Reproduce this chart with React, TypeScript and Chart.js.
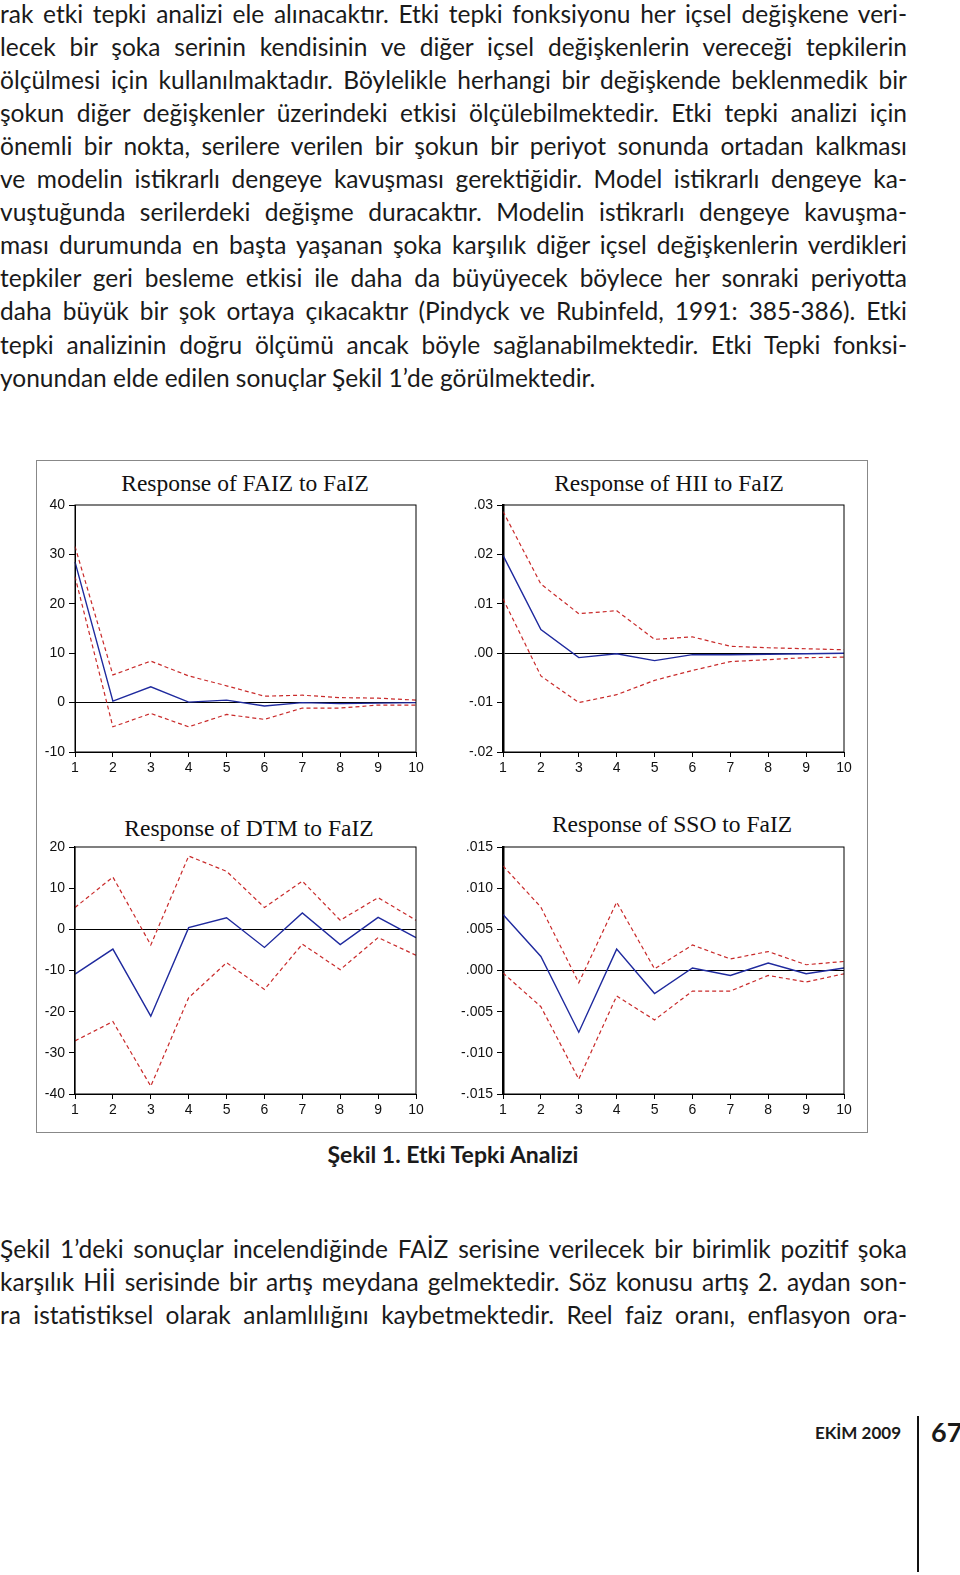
import React, { useEffect, useRef } from 'react';
import { Chart, registerables } from 'chart.js';

Chart.register(...registerables);

// ---------- DATA ----------
const periods = ['1', '2', '3', '4', '5', '6', '7', '8', '9', '10'];

const faizResponse = [28.5, 0.3, 3.2, 0.1, 0.5, -0.7, 0.0, -0.2, -0.1, 0.0];
const faizUpper = [31.6, 5.6, 8.4, 5.4, 3.4, 1.3, 1.5, 1.0, 0.9, 0.5];
const faizLower = [25.5, -4.9, -2.2, -4.9, -2.4, -3.4, -1.1, -1.1, -0.5, -0.5];
const faizTickLabels = ['-10', '0', '10', '20', '30', '40'];

const hiiResponse = [0.0198, 0.0048, -0.0009, -0.0001, -0.0015, -0.0003, -0.0003, -0.0002, -0.0001, 0.0];
const hiiUpper = [0.0287, 0.014, 0.008, 0.0086, 0.0028, 0.0033, 0.0014, 0.0011, 0.0009, 0.0007];
const hiiLower = [0.011, -0.0046, -0.01, -0.0084, -0.0055, -0.0035, -0.0017, -0.0013, -0.0009, -0.0008];
const hiiTickLabels = ['-.02', '-.01', '.00', '.01', '.02', '.03'];

const dtmResponse = [-10.9, -4.8, -21.1, 0.4, 2.8, -4.4, 4.0, -3.7, 2.9, -2.0];
const dtmUpper = [5.3, 12.7, -3.8, 17.8, 14.1, 5.3, 11.7, 2.2, 7.7, 2.2];
const dtmLower = [-27.1, -22.4, -38.1, -16.6, -8.1, -14.6, -3.6, -9.8, -2.0, -6.3];
const dtmTickLabels = ['-40', '-30', '-20', '-10', '0', '10', '20'];

const ssoResponse = [0.0068, 0.0017, -0.0075, 0.0026, -0.0028, 0.0003, -0.0006, 0.0009, -0.0004, 0.0003];
const ssoUpper = [0.0127, 0.0077, -0.0015, 0.0083, 0.0002, 0.0031, 0.0014, 0.0023, 0.0007, 0.0011];
const ssoLower = [-0.0003, -0.0044, -0.0132, -0.0031, -0.006, -0.0025, -0.0025, -0.0006, -0.0014, -0.0004];
const ssoTickLabels = ['-.015', '-.010', '-.005', '.000', '.005', '.010', '.015'];

const topParagraph = [
  'rak etki tepki analizi ele alınacaktır. Etki tepki fonksiyonu her içsel değişkene veri-',
  'lecek bir şoka serinin kendisinin ve diğer içsel değişkenlerin vereceği tepkilerin',
  'ölçülmesi için kullanılmaktadır. Böylelikle herhangi bir değişkende beklenmedik bir',
  'şokun diğer değişkenler üzerindeki etkisi ölçülebilmektedir. Etki tepki analizi için',
  'önemli bir nokta, serilere verilen bir şokun bir periyot sonunda ortadan kalkması',
  've modelin istikrarlı dengeye kavuşması gerektiğidir. Model istikrarlı dengeye ka-',
  'vuştuğunda serilerdeki değişme duracaktır. Modelin istikrarlı dengeye kavuşma-',
  'ması durumunda en başta yaşanan şoka karşılık diğer içsel değişkenlerin verdikleri',
  'tepkiler geri besleme etkisi ile daha da büyüyecek böylece her sonraki periyotta',
  'daha büyük bir şok ortaya çıkacaktır (Pindyck ve Rubinfeld, 1991: 385-386). Etki',
  'tepki analizinin doğru ölçümü ancak böyle sağlanabilmektedir. Etki Tepki fonksi-',
  'yonundan elde edilen sonuçlar Şekil 1’de görülmektedir.',
];

const bottomParagraph = [
  'Şekil 1’deki sonuçlar incelendiğinde FAİZ serisine verilecek bir birimlik pozitif şoka',
  'karşılık Hİİ serisinde bir artış meydana gelmektedir. Söz konusu artış 2. aydan son-',
  'ra istatistiksel olarak anlamlılığını kaybetmektedir. Reel faiz oranı, enflasyon ora-',
];

const caption = 'Şekil 1. Etki Tepki Analizi';

// ---------- STYLE ----------
const RED = '#c92a2a';
const BLUE = '#1f2a9e';
const BODY_FONT = 'Lato, "Open Sans", sans-serif';

const framePlugin = {
  id: 'frame',
  afterDraw(chart: any) {
    const { ctx, chartArea } = chart;
    ctx.save();
    ctx.strokeStyle = '#000';
    ctx.lineWidth = 1;
    ctx.strokeRect(chartArea.left, chartArea.top, chartArea.right - chartArea.left, chartArea.bottom - chartArea.top);
    ctx.restore();
  },
};

type PanelProps = {
  title: string;
  response: number[];
  upper: number[];
  lower: number[];
  min: number;
  max: number;
  step: number;
  tickLabels: string[];
  axisWidth: number;
  left: number;
  top: number;
  width: number;
  height: number;
  area: { l: number; t: number; r: number; b: number };
  titleX: number;
  titleY: number;
};

function Panel(p: PanelProps) {
  const ref = useRef<HTMLCanvasElement>(null);
  useEffect(() => {
    const canvas = ref.current!;
    const padTop = p.area.t - p.top;
    const yWidth = p.area.l - p.left;
    const padRight = p.left + p.width - p.area.r;
    const xHeight = p.top + p.height - p.area.b;
    const tickFont = { family: '"Liberation Sans", Arial, sans-serif', size: 14 };
    const chart = new Chart(canvas, {
      type: 'line',
      data: {
        labels: periods,
        datasets: [
          { data: p.upper, borderColor: RED, borderWidth: 1.2, borderDash: [4, 3], pointRadius: 0, fill: false, tension: 0 },
          { data: p.lower, borderColor: RED, borderWidth: 1.2, borderDash: [4, 3], pointRadius: 0, fill: false, tension: 0 },
          { data: p.response, borderColor: BLUE, borderWidth: 1.4, pointRadius: 0, fill: false, tension: 0 },
        ],
      },
      options: {
        animation: false,
        responsive: false,
        maintainAspectRatio: false,
        events: [],
        layout: { padding: { top: padTop, right: padRight, left: 0, bottom: 0 } },
        plugins: { legend: { display: false }, tooltip: { enabled: false }, title: { display: false } },
        scales: {
          x: {
            type: 'category',
            offset: false,
            grid: { offset: false, drawOnChartArea: false, drawTicks: true, tickLength: 5, tickColor: '#000', lineWidth: 1 },
            border: { display: true, color: '#000', width: 1 },
            ticks: { color: '#111', font: tickFont, padding: 3, maxRotation: 0, autoSkip: false },
            afterFit: (s: any) => {
              s.height = xHeight;
            },
          },
          y: {
            type: 'linear',
            min: p.min,
            max: p.max,
            ticks: {
              stepSize: p.step,
              autoSkip: false,
              color: '#111',
              font: tickFont,
              padding: 4,
              callback: (_v: any, i: number) => p.tickLabels[i],
            },
            grid: {
              color: (ctx: any) => (ctx.tick && Math.abs(ctx.tick.value) < 1e-9 ? '#000' : 'rgba(0,0,0,0)'),
              tickColor: '#000',
              tickLength: 6,
              lineWidth: 1,
            },
            border: { display: true, color: '#000', width: p.axisWidth },
            afterFit: (s: any) => {
              s.width = yWidth;
            },
          },
        },
      } as any,
      plugins: [framePlugin],
    });
    return () => chart.destroy();
  }, []);

  return (
    <>
      <div
        style={{
          position: 'absolute',
          left: p.titleX - 200,
          top: p.titleY - 14,
          width: 400,
          height: 28,
          lineHeight: '28px',
          textAlign: 'center',
          fontFamily: '"Liberation Serif", "Times New Roman", serif',
          fontSize: 23.5,
          color: '#111',
          whiteSpace: 'nowrap',
        }}
      >
        {p.title}
      </div>
      <canvas
        ref={ref}
        width={p.width}
        height={p.height}
        style={{ position: 'absolute', left: p.left, top: p.top, width: p.width, height: p.height }}
      />
    </>
  );
}

function TextLine({ text, center, last }: { text: string; center: number; last?: boolean }) {
  return (
    <div
      style={{
        position: 'absolute',
        left: 0,
        top: center - 18,
        width: 907,
        height: 33,
        lineHeight: '33px',
        fontFamily: BODY_FONT,
        fontSize: 24.5,
        color: '#1a1a1a',
        textAlign: last ? 'left' : 'justify',
        textAlignLast: last ? 'left' : 'justify',
      } as any}
    >
      {text}
    </div>
  );
}

export default function App() {
  const lineGap = 33.1;
  return (
    <div
      style={{
        position: 'absolute',
        left: 0,
        top: 0,
        width: 960,
        height: 1575,
        background: '#fff',
        overflow: 'hidden',
      }}
    >
      {topParagraph.map((t, i) => (
        <TextLine key={'t' + i} text={t} center={14.5 + i * lineGap} last={i === topParagraph.length - 1} />
      ))}

      <div
        style={{
          position: 'absolute',
          left: 36,
          top: 460,
          width: 832,
          height: 673,
          border: '1px solid #888',
          boxSizing: 'border-box',
        }}
      />

      <Panel
        title="Response of FAIZ to FaIZ"
        response={faizResponse}
        upper={faizUpper}
        lower={faizLower}
        min={-10}
        max={40}
        step={10}
        tickLabels={faizTickLabels}
        axisWidth={1}
        left={37}
        top={461}
        width={402}
        height={328}
        area={{ l: 75, t: 505, r: 416, b: 752 }}
        titleX={245}
        titleY={483}
      />
      <Panel
        title="Response of HII to FaIZ"
        response={hiiResponse}
        upper={hiiUpper}
        lower={hiiLower}
        min={-0.02}
        max={0.03}
        step={0.01}
        tickLabels={hiiTickLabels}
        axisWidth={2.5}
        left={441}
        top={461}
        width={420}
        height={328}
        area={{ l: 503, t: 505, r: 844, b: 752 }}
        titleX={669}
        titleY={483}
      />
      <Panel
        title="Response of DTM to FaIZ"
        response={dtmResponse}
        upper={dtmUpper}
        lower={dtmLower}
        min={-40}
        max={20}
        step={10}
        tickLabels={dtmTickLabels}
        axisWidth={1.3}
        left={37}
        top={792}
        width={402}
        height={338}
        area={{ l: 75, t: 847, r: 416, b: 1094 }}
        titleX={249}
        titleY={828}
      />
      <Panel
        title="Response of SSO to FaIZ"
        response={ssoResponse}
        upper={ssoUpper}
        lower={ssoLower}
        min={-0.015}
        max={0.015}
        step={0.005}
        tickLabels={ssoTickLabels}
        axisWidth={2.5}
        left={441}
        top={792}
        width={420}
        height={338}
        area={{ l: 503, t: 847, r: 844, b: 1094 }}
        titleX={672}
        titleY={824}
      />

      <div
        style={{
          position: 'absolute',
          left: 253,
          top: 1154 - 15,
          width: 400,
          height: 30,
          lineHeight: '30px',
          textAlign: 'center',
          fontFamily: BODY_FONT,
          fontWeight: 700,
          fontSize: 23,
          color: '#1a1a1a',
        }}
      >
        {caption}
      </div>

      {bottomParagraph.map((t, i) => (
        <TextLine key={'b' + i} text={t} center={1250 + i * lineGap} />
      ))}

      <div
        style={{
          position: 'absolute',
          left: 700,
          top: 1433 - 12,
          width: 201,
          height: 24,
          lineHeight: '24px',
          textAlign: 'right',
          fontFamily: BODY_FONT,
          fontWeight: 700,
          fontSize: 17,
          color: '#1a1a1a',
        }}
      >
        EKİM 2009
      </div>
      <div style={{ position: 'absolute', left: 917, top: 1416, width: 2, height: 156, background: '#111' }} />
      <div
        style={{
          position: 'absolute',
          left: 931,
          top: 1432 - 18,
          height: 36,
          lineHeight: '36px',
          fontFamily: BODY_FONT,
          fontWeight: 700,
          fontSize: 27,
          color: '#1a1a1a',
        }}
      >
        67
      </div>
    </div>
  );
}
